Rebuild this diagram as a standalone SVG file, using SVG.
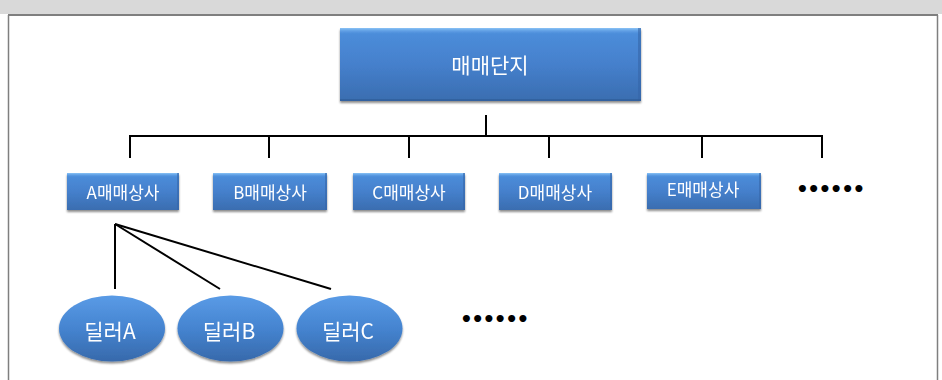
<svg xmlns="http://www.w3.org/2000/svg" width="942" height="380" viewBox="0 0 942 380">
<style>
.lbl{font-family:"Noto Sans CJK KR","Liberation Sans",sans-serif;fill:#ffffff;text-anchor:middle}
.conn{stroke:#000;stroke-width:2;fill:none}
.dots{font-family:"DejaVu Sans",sans-serif;font-size:20px;font-weight:bold;fill:#000;letter-spacing:-1.5px}
</style>
<defs>
<linearGradient id="boxg" x1="0" y1="0" x2="0" y2="1">
<stop offset="0" stop-color="#4d8fdc"/>
<stop offset="0.5" stop-color="#4580cc"/>
<stop offset="1" stop-color="#3a6db0"/>
</linearGradient>
<linearGradient id="topg" x1="0" y1="0" x2="0" y2="1">
<stop offset="0" stop-color="#8cc4f6"/>
<stop offset="1" stop-color="#5b9de6" stop-opacity="0"/>
</linearGradient>
<linearGradient id="ellg" x1="0" y1="0" x2="0" y2="1">
<stop offset="0" stop-color="#5a9be6"/>
<stop offset="0.5" stop-color="#4584d0"/>
<stop offset="1" stop-color="#3769ab"/>
</linearGradient>
<filter id="sh" x="-10%" y="-10%" width="120%" height="130%">
<feGaussianBlur in="SourceAlpha" stdDeviation="1.2"/>
<feOffset dx="0" dy="1.5" result="b"/>
<feComponentTransfer><feFuncA type="linear" slope="0.45"/></feComponentTransfer>
<feMerge><feMergeNode/><feMergeNode in="SourceGraphic"/></feMerge>
</filter>
</defs>
<rect x="0" y="0" width="942" height="380" fill="#ffffff"/>
<rect x="0" y="0" width="942" height="14" fill="#d9d9d9"/>
<line x1="8" y1="15" x2="938" y2="15" stroke="#7f7f7f" stroke-width="2"/>
<line x1="8.5" y1="15" x2="8.5" y2="380" stroke="#7f7f7f" stroke-width="1.5"/>
<line x1="937.5" y1="15" x2="937.5" y2="380" stroke="#7f7f7f" stroke-width="1.5"/>

<g id="connectors">
<line class="conn" x1="486" y1="115" x2="486" y2="136"/>
<line class="conn" x1="129" y1="136" x2="823" y2="136"/>
<line class="conn" x1="130" y1="135" x2="130" y2="158"/>
<line class="conn" x1="269" y1="135" x2="269" y2="158"/>
<line class="conn" x1="409" y1="135" x2="409" y2="158"/>
<line class="conn" x1="549" y1="135" x2="549" y2="158"/>
<line class="conn" x1="702" y1="135" x2="702" y2="158"/>
<line class="conn" x1="822" y1="135" x2="822" y2="158"/>
<line class="conn" x1="115" y1="224" x2="115" y2="289"/>
<line class="conn" x1="115" y1="224" x2="220" y2="289"/>
<line class="conn" x1="115" y1="224" x2="331" y2="289"/>
</g>

<g id="n-top" filter="url(#sh)">
<rect x="340" y="28" width="301" height="73" fill="url(#boxg)"/>
<rect x="340" y="28" width="301" height="6" fill="url(#topg)"/>
<rect x="638" y="28" width="3" height="73" fill="#3565a8" opacity="0.6"/>
<rect x="340" y="99" width="301" height="2" fill="#2f5c98" opacity="0.7"/>
<text class="lbl" x="490" y="73" font-size="21">매매단지</text>
</g>

<g id="n-a" filter="url(#sh)">
<rect x="67" y="173" width="112" height="37" fill="url(#boxg)"/>
<rect x="67" y="173" width="112" height="4" fill="url(#topg)"/>
<rect x="177" y="173" width="2" height="37" fill="#3565a8" opacity="0.6"/>
<text class="lbl" x="123" y="198.5" font-size="17">A매매상사</text>
</g>
<g id="n-b" filter="url(#sh)">
<rect x="213" y="173" width="114" height="37" fill="url(#boxg)"/>
<rect x="213" y="173" width="114" height="4" fill="url(#topg)"/>
<rect x="325" y="173" width="2" height="37" fill="#3565a8" opacity="0.6"/>
<text class="lbl" x="270" y="198.5" font-size="17">B매매상사</text>
</g>
<g id="n-c" filter="url(#sh)">
<rect x="353" y="173" width="112" height="37" fill="url(#boxg)"/>
<rect x="353" y="173" width="112" height="4" fill="url(#topg)"/>
<rect x="463" y="173" width="2" height="37" fill="#3565a8" opacity="0.6"/>
<text class="lbl" x="409" y="198.5" font-size="17">C매매상사</text>
</g>
<g id="n-d" filter="url(#sh)">
<rect x="499" y="173" width="113" height="37" fill="url(#boxg)"/>
<rect x="499" y="173" width="113" height="4" fill="url(#topg)"/>
<rect x="610" y="173" width="2" height="37" fill="#3565a8" opacity="0.6"/>
<text class="lbl" x="555" y="199" font-size="17">D매매상사</text>
</g>
<g id="n-e" filter="url(#sh)">
<rect x="647" y="173" width="114" height="36" fill="url(#boxg)"/>
<rect x="647" y="173" width="114" height="4" fill="url(#topg)"/>
<rect x="759" y="173" width="2" height="36" fill="#3565a8" opacity="0.6"/>
<text class="lbl" x="703" y="195.5" font-size="17">E매매상사</text>
</g>
<g id="n-more1">
<text class="dots" x="796" y="196">••••••</text>
</g>

<g id="n-dealer-a" filter="url(#sh)">
<ellipse cx="112" cy="328.5" rx="53" ry="33" fill="url(#ellg)"/>
<text class="lbl" x="110" y="339" font-size="21">딜러A</text>
</g>
<g id="n-dealer-b" filter="url(#sh)">
<ellipse cx="230.5" cy="328.5" rx="53" ry="33" fill="url(#ellg)"/>
<text class="lbl" x="229" y="339" font-size="21">딜러B</text>
</g>
<g id="n-dealer-c" filter="url(#sh)">
<ellipse cx="349.5" cy="328.5" rx="53" ry="33" fill="url(#ellg)"/>
<text class="lbl" x="348" y="339" font-size="21">딜러C</text>
</g>
<g id="n-more2">
<text class="dots" x="460" y="326">••••••</text>
</g>
</svg>
